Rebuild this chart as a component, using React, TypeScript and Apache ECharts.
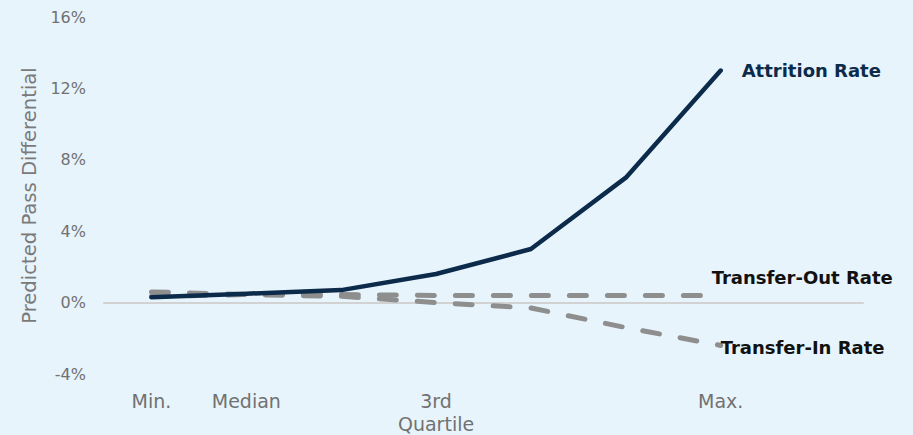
import React, { useEffect, useRef } from "react";
import * as echarts from "echarts";

const categories = ["Min.", "Median", "", "3rd\nQuartile", "", "", "Max.", ""];
const attritionRate = [0.3, 0.5, 0.7, 1.6, 3.0, 7.0, 13.0, null];
const transferOutRate = [0.6, 0.45, 0.45, 0.4, 0.4, 0.4, 0.4, null];
const transferInRate = [0.35, 0.45, 0.35, 0.0, -0.3, -1.4, -2.4, null];
const yTicks = { min: -4, max: 16, interval: 4 };

const FONT = "'DejaVu Sans', sans-serif";

export default function App() {
  const ref = useRef<HTMLDivElement>(null);
  useEffect(() => {
    if (!ref.current) return;
    const chart = echarts.init(ref.current, null, { renderer: "svg" });
    const dashed = {
      color: "#8e8e8e",
      width: 5,
      type: [17, 21] as any,
      cap: "round" as any,
    };
    const endLbl = (color: string, offset: number[]) => ({
      show: true,
      formatter: "{a}",
      color,
      fontWeight: "bold",
      fontSize: 18,
      fontFamily: FONT,
      offset,
    });
    chart.setOption({
      animation: false,
      backgroundColor: "#e7f4fc",
      textStyle: { fontFamily: FONT },
      grid: { left: 104, right: 50, top: 17, bottom: 61 },
      xAxis: [
        {
          type: "category",
          data: categories,
          boundaryGap: true,
          axisLine: { show: false, onZero: false },
          axisTick: { show: false },
          axisLabel: {
            color: "#717171",
            fontSize: 19,
            margin: 15,
            lineHeight: 23,
            interval: 0,
            fontFamily: FONT,
          },
        },
        {
          type: "category",
          data: categories,
          boundaryGap: true,
          position: "bottom",
          axisLine: { show: true, onZero: true, lineStyle: { color: "#d2d2d2", width: 2 } },
          axisTick: { show: false },
          axisLabel: { show: false },
        },
      ],
      yAxis: {
        type: "value",
        min: yTicks.min,
        max: yTicks.max,
        interval: yTicks.interval,
        name: "Predicted Pass Differential",
        nameLocation: "middle",
        nameGap: 65,
        nameTextStyle: { color: "#7a7a7a", fontSize: 19.6, fontFamily: FONT },
        axisLine: { show: false },
        axisTick: { show: false },
        splitLine: { show: false },
        axisLabel: {
          color: "#717171",
          fontSize: 16,
          margin: 18,
          fontFamily: FONT,
          formatter: (v: number) => `${v}%`,
        },
      },
      series: [
        {
          name: "Transfer-Out Rate",
          type: "line",
          data: transferOutRate,
          symbol: "none",
          lineStyle: dashed,
          z: 2,
          endLabel: endLbl("#111111", [-17, -18]),
        },
        {
          name: "Transfer-In Rate",
          type: "line",
          data: transferInRate,
          symbol: "none",
          lineStyle: dashed,
          z: 2,
          endLabel: endLbl("#111111", [-8, 2]),
        },
        {
          name: "Attrition Rate",
          type: "line",
          data: attritionRate,
          symbol: "none",
          lineStyle: { color: "#0c2b4b", width: 4.5, cap: "round" },
          z: 3,
          endLabel: endLbl("#0c2b4b", [13, 0]),
        },
      ],
    });
    return () => chart.dispose();
  }, []);
  return (
    <div
      ref={ref}
      style={{ position: "fixed", left: 0, top: 0, width: 913, height: 435 }}
    />
  );
}
